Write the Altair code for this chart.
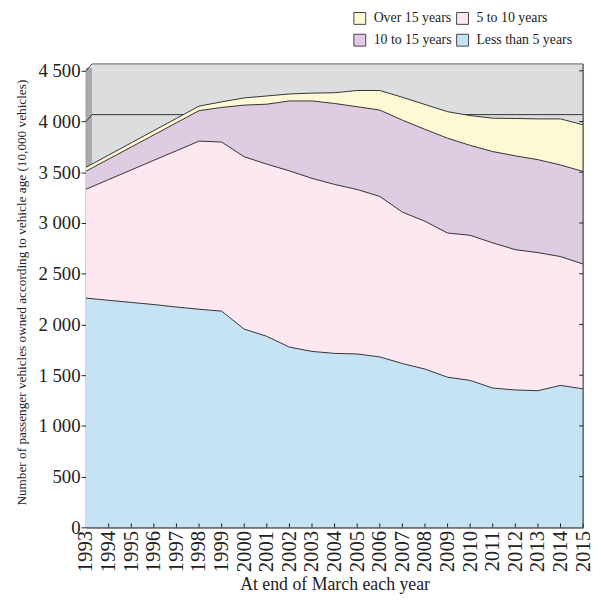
import altair as alt
import pandas as pd

years = list(range(1993, 2016))
less_than_5 = [2260, 2238, 2217, 2196, 2172, 2150, 2131, 1954, 1883, 1777, 1734, 1715,
               1709, 1680, 1615, 1560, 1480, 1448, 1373, 1354, 1347, 1399, 1365]
five_to_10 = [1073, 1190, 1306, 1422, 1540, 1657, 1667, 1699, 1697, 1737, 1706, 1665,
              1621, 1582, 1492, 1457, 1421, 1431, 1431, 1383, 1361, 1270, 1230]
ten_to_15 = [178, 202, 226, 250, 276, 300, 341, 509, 591, 689, 763, 798,
             816, 851, 907, 906, 935, 886, 900, 925, 916, 903, 913]
over_15 = [38, 40, 41, 43, 43, 45, 55, 71, 81, 69, 77, 106,
           160, 193, 225, 245, 261, 294, 329, 368, 402, 454, 460]

# legend is laid out column by column: (Over 15, 10 to 15) | (5 to 10, Less than 5)
categories = ["Over 15 years", "10 to 15 years", "5 to 10 years", "Less than 5 years"]
colors = ["#fef9d5", "#dfcbe2", "#fde8f1", "#c5e3f5"]
stack_rank = {"Less than 5 years": 0, "5 to 10 years": 1, "10 to 15 years": 2, "Over 15 years": 3}
y_ticks = list(range(0, 4501, 500))

series = {
    "Less than 5 years": less_than_5,
    "5 to 10 years": five_to_10,
    "10 to 15 years": ten_to_15,
    "Over 15 years": over_15,
}
rows = []
for name, vals in series.items():
    for yr, v in zip(years, vals):
        rows.append({"year": yr, "age": name, "value": v, "rank": stack_rank[name]})
df = pd.DataFrame(rows)

W, H = 503, 462
FONT = "Liberation Serif"
INK = "#222222"
one = pd.DataFrame({"k": [0]})

x_scale = alt.Scale(domain=[1993, 2015], nice=False, zero=False)
y_scale = alt.Scale(domain=[0, 4500], nice=False)

x_axis = alt.Axis(values=years, format="d", title="At end of March each year")
y_axis = alt.Axis(values=y_ticks, labelExpr="replace(format(datum.value, ','), ',', ' ')",
                  title="Number of passenger vehicles owned according to vehicle age (10,000 vehicles)")

base = alt.Chart(df).transform_stack(
    stack="value", groupby=["year"], as_=["y0", "y1"],
    sort=[alt.SortField("rank", order="ascending")]
)

areas = base.mark_area(opacity=1).encode(
    x=alt.X("year:Q", scale=x_scale, axis=x_axis),
    y=alt.Y("y1:Q", scale=y_scale, axis=y_axis),
    y2="y0:Q",
    color=alt.Color("age:N", scale=alt.Scale(domain=categories, range=colors),
                    legend=alt.Legend(orient="none", legendX=270, legendY=-60, columns=2,
                                      title=None, symbolType="square", symbolSize=144,
                                      symbolStrokeColor="#444444", symbolStrokeWidth=1,
                                      symbolOpacity=1, labelOffset=7, columnPadding=3,
                                      rowPadding=6)),
)
lines = base.mark_line(color="#333333", strokeWidth=1).encode(
    x=alt.X("year:Q", scale=x_scale, axis=x_axis),
    y=alt.Y("y1:Q", scale=y_scale, axis=y_axis),
    detail="age:N",
)

bg_top = alt.Chart(one).mark_rect(color="#dcdddf").encode(
    x=alt.value(6), x2=alt.value(W), y=alt.value(-7), y2=alt.value(0))
bg_back = alt.Chart(one).mark_rect(color="#dcdddf").encode(
    x=alt.value(6), x2=alt.value(W), y=alt.value(0), y2=alt.value(H))
wall = alt.Chart(one).mark_rect(color="#a9aaad").encode(
    x=alt.value(0), x2=alt.value(6), y=alt.value(-3), y2=alt.value(H))
back_grid = alt.Chart(one).mark_rule(color="#333333", strokeWidth=1, yOffset=-7).encode(
    x=alt.value(6), x2=alt.value(W), y=alt.datum(4000))
back_slant = alt.Chart(one).mark_rule(color="#333333", strokeWidth=1, y2Offset=-7).encode(
    x=alt.value(0), x2=alt.value(6), y=alt.datum(4000), y2=alt.datum(4000))
top_border = alt.Chart(one).mark_rule(color="#666666", strokeWidth=1).encode(
    x=alt.value(6), x2=alt.value(W), y=alt.value(-7))
corner = alt.Chart(one).mark_rule(color="#333333", strokeWidth=1).encode(
    x=alt.value(0), x2=alt.value(6), y=alt.value(0), y2=alt.value(-7))
right_border = alt.Chart(one).mark_rule(color="#444444", strokeWidth=1.2).encode(
    x=alt.value(W), y=alt.value(-7), y2=alt.value(H))

x_ticks = alt.Chart(pd.DataFrame({"year": years[1:]})).mark_rule(color=INK, strokeWidth=1).encode(
    x=alt.X("year:Q", scale=x_scale, axis=x_axis), y=alt.value(H - 4), y2=alt.value(H))
r_ticks = alt.Chart(pd.DataFrame({"y1": y_ticks[1:]})).mark_rule(color=INK, strokeWidth=1).encode(
    y=alt.Y("y1:Q", scale=y_scale, axis=y_axis), x=alt.value(W - 4), x2=alt.value(W))

chart = alt.layer(
    bg_top, bg_back, wall, back_grid, back_slant, areas, lines,
    top_border, corner, right_border, x_ticks, r_ticks
).properties(
    width=W, height=H,
    autosize=alt.AutoSizeParams(type="none"),
    padding={"left": 79, "top": 60, "right": 10, "bottom": 74},
).configure_view(strokeWidth=0).configure(background="white").configure_legend(
    labelFont=FONT, labelFontSize=14, labelColor=INK
).configure_axis(
    grid=False, domainColor=INK, domainWidth=1.5, labelFont=FONT, labelColor=INK,
    titleFont=FONT, titleFontWeight="normal", titleColor=INK, labelOverlap=False
).configure_axisX(
    labelAngle=-90, labelFontSize=21, labelPadding=3, tickSize=0,
    titleFontSize=18, titlePadding=4
).configure_axisY(
    labelFontSize=19, labelPadding=1, tickSize=5, tickColor=INK,
    titleFontSize=13.4, titlePadding=10, titleY=224
)

chart.save("out.html", embed_options={"renderer": "svg", "actions": False})
